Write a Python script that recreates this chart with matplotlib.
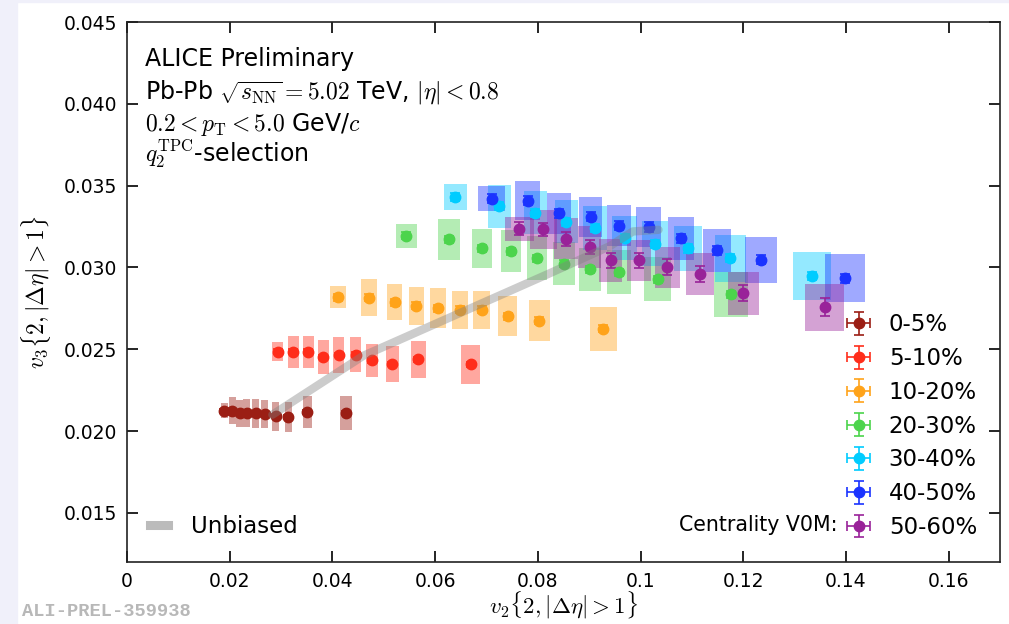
import matplotlib
matplotlib.use("Agg")
import matplotlib.pyplot as plt
from matplotlib.lines import Line2D
from matplotlib.patches import Rectangle
from matplotlib.ticker import FuncFormatter, MultipleLocator
import numpy as np

plt.rcParams['mathtext.fontset'] = 'cm'
plt.rcParams['font.family'] = ['DejaVu Sans']

# centrality classes
labels = ['0-5%', '5-10%', '10-20%', '20-30%', '30-40%', '40-50%', '50-60%']
colors = ['#9b1e14', '#ff2d1a', '#ffa31a', '#4cd44c', '#00ccff', '#1a33ff', '#992299']

# v2{2,|deta|>1} per q2 bin
v2 = [
    [0.0189, 0.0205, 0.0220, 0.0233, 0.0251, 0.0268, 0.0290, 0.0314, 0.0351, 0.0426],
    [0.0294, 0.0324, 0.0353, 0.0382, 0.0412, 0.0445, 0.0478, 0.0517, 0.0567, 0.0669],
    [0.0411, 0.0471, 0.0521, 0.0563, 0.0606, 0.0649, 0.0691, 0.0741, 0.0803, 0.0927],
    [0.0544, 0.0627, 0.0692, 0.0747, 0.0799, 0.0851, 0.0901, 0.0959, 0.1034, 0.1177],
    [0.0639, 0.0725, 0.0795, 0.0855, 0.0911, 0.0969, 0.1028, 0.1093, 0.1175, 0.1334],
    [0.0710, 0.0780, 0.0841, 0.0903, 0.0959, 0.1016, 0.1078, 0.1148, 0.1235, 0.1398],
    [0.0764, 0.0811, 0.0854, 0.0901, 0.0942, 0.0997, 0.1052, 0.1115, 0.1200, 0.1359],
]
# v3{2,|deta|>1}
v3 = [
    [0.02124, 0.02124, 0.02108, 0.0211, 0.02108, 0.02104, 0.0209, 0.02085, 0.02114, 0.0211],
    [0.02486, 0.02484, 0.02484, 0.02453, 0.02465, 0.02468, 0.02433, 0.0241, 0.02439, 0.02407],
    [0.02817, 0.02815, 0.02787, 0.02766, 0.0275, 0.02742, 0.02742, 0.02701, 0.02675, 0.02626],
    [0.03193, 0.03173, 0.03116, 0.03098, 0.03057, 0.03024, 0.02988, 0.02971, 0.02927, 0.02835],
    [0.03433, 0.03374, 0.03334, 0.03279, 0.03242, 0.03181, 0.03145, 0.03116, 0.03057, 0.02949],
    [0.03421, 0.03409, 0.03331, 0.03309, 0.03256, 0.03247, 0.03179, 0.03104, 0.03047, 0.02935],
    [0.03236, 0.03232, 0.03175, 0.03124, 0.03043, 0.03043, 0.03002, 0.0296, 0.02843, 0.02756],
]
# statistical errors on v3
stat_v3 = [
    [0.00012] * 10,
    [0.00015] * 10,
    [0.0002] * 10,
    [0.00022] * 10,
    [0.00025] * 10,
    [0.00028] * 10,
    [0.0004, 0.0004, 0.00043, 0.00043, 0.00045, 0.00045, 0.00047, 0.0005, 0.0005, 0.00055],
]
# systematic uncertainties (half widths)
sys_v2 = [
    [0.00068] * 8 + [0.00088, 0.00117],
    [0.00107] * 6 + [0.00117, 0.00127, 0.00146, 0.00185],
    [0.00156, 0.00156, 0.00146, 0.00146, 0.00156, 0.00156, 0.00166, 0.00185, 0.00205, 0.00263],
    [0.00205, 0.00205, 0.00195, 0.00195, 0.00195, 0.00205, 0.00214, 0.00234, 0.00263, 0.00331],
    [0.00224, 0.00224, 0.00224, 0.00224, 0.00234, 0.00244, 0.00253, 0.00273, 0.00302, 0.0037],
    [0.00263, 0.00244, 0.00234, 0.00224, 0.00234, 0.00244, 0.00253, 0.00273, 0.00312, 0.0039],
    [0.00283, 0.00263, 0.00234, 0.00224, 0.00224, 0.00234, 0.00244, 0.00273, 0.00302, 0.0038],
]
sys_v3 = [
    [0.00046, 0.00082, 0.00082, 0.00085, 0.00091, 0.00088, 0.00088, 0.00091, 0.00098, 0.00104],
    [0.00058, 0.00098, 0.00098, 0.00104, 0.00107, 0.00104, 0.00101, 0.00107, 0.00113, 0.00122],
    [0.00067, 0.00113, 0.0011, 0.00116, 0.00122, 0.00116, 0.00116, 0.00122, 0.00125, 0.00134],
    [0.00073, 0.00125, 0.00122, 0.00128, 0.00134, 0.00131, 0.00131, 0.00134, 0.00134, 0.0014],
    [0.00079, 0.00131, 0.00131, 0.00131, 0.00134, 0.00134, 0.00137, 0.0014, 0.00143, 0.00146],
    [0.00079, 0.00122, 0.00125, 0.00122, 0.00125, 0.00125, 0.00131, 0.00134, 0.0014, 0.00149],
    [0.00073, 0.00122, 0.00125, 0.00128, 0.00131, 0.00125, 0.00125, 0.00131, 0.00131, 0.00143],
]

# unbiased (no q2 selection) per centrality
unbiased_v2 = [0.0283, 0.0460, 0.0640, 0.0820, 0.0940, 0.0985, 0.1035]
unbiased_v3 = [0.0210, 0.0246, 0.0271, 0.0296, 0.0313, 0.0322, 0.0323]

fig = plt.figure(figsize=(10.09, 6.24), dpi=100)
fig.patch.set_facecolor('white')
fig.add_artist(Rectangle((0, 0), 17 / 1009, 1, transform=fig.transFigure,
                         color='#f0f0fa', zorder=0))
fig.add_artist(Rectangle((0, 1 - 2 / 624), 1, 2 / 624, transform=fig.transFigure,
                         color='#f0f0fa', zorder=0))

ax = fig.add_axes([127 / 1009, 1 - 562 / 624, 873 / 1009, 540 / 624])

handles = []
for i, lab in enumerate(labels):
    x = np.array(v2[i])
    y = np.array(v3[i])
    sx = np.array(sys_v2[i])
    sy = np.array(sys_v3[i])
    ax.bar(x, 2 * sy, width=2 * sx, bottom=y - sy, color=colors[i],
           alpha=0.42, linewidth=0, zorder=1 + i * 0.01)
    h = ax.errorbar(x, y, yerr=stat_v3[i], xerr=0.00008, fmt='o', color=colors[i],
                    markersize=7.5, capsize=3.5, elinewidth=1.2, capthick=1.2,
                    zorder=3, label=lab)
    handles.append(h)

ax.plot(unbiased_v2, unbiased_v3, color='gray', alpha=0.4, lw=6,
        solid_capstyle='round', solid_joinstyle='round', zorder=4)

ax.set_xlim(0, 0.17)
ax.set_ylim(0.012, 0.045)
ax.xaxis.set_major_locator(MultipleLocator(0.02))
ax.yaxis.set_major_locator(MultipleLocator(0.005))
ax.xaxis.set_major_formatter(FuncFormatter(lambda v, p: '0' if abs(v) < 1e-9 else '%g' % round(v, 3)))
ax.yaxis.set_major_formatter(FuncFormatter(lambda v, p: '%.3f' % v))
ax.tick_params(direction='in', top=True, right=True, length=8, width=1.2,
               labelsize=13.5, pad=7)
for s in ax.spines.values():
    s.set_linewidth(1.2)
    s.set_color('#222222')

ax.set_xlabel(r'$v_2\{2, |\Delta\eta|>1\}$', fontsize=16.5, labelpad=-1)
ax.set_ylabel(r'$v_3\{2, |\Delta\eta|>1\}$', fontsize=17, labelpad=8)

tx = 18 / 873
ax.text(tx, 0.9194, 'ALICE Preliminary', transform=ax.transAxes, fontsize=17, va='baseline')
ax.text(tx, 0.8583, r'Pb-Pb $\sqrt{s_{\rm NN}}=5.02$ TeV, $|\eta|<0.8$',
        transform=ax.transAxes, fontsize=17, va='baseline')
ax.text(tx, 0.799, r'$0.2<p_{\rm T}<5.0$ GeV/$c$', transform=ax.transAxes,
        fontsize=17, va='baseline')
ax.text(tx, 0.7407, r'$q_2^{\rm TPC}$-selection', transform=ax.transAxes,
        fontsize=17, va='baseline')

leg = ax.legend(handles=handles, loc='lower right', frameon=False, fontsize=16.5,
                handlelength=1.1, handletextpad=0.75, labelspacing=0.47,
                borderaxespad=0.0, borderpad=0.0, bbox_to_anchor=(1 - 23 / 873, 23 / 540))
ax.add_artist(leg)
ax.text((679 - 127) / 873, 1 - (525 - 22) / 540, 'Centrality V0M:', transform=ax.transAxes,
        fontsize=14.8, va='center', ha='left')

unb_handle = Line2D([], [], color='#bbbbbb', lw=6.5)
ax.legend([unb_handle], ['Unbiased'], loc='lower left', frameon=False,
          fontsize=16.5, handlelength=0.8, handletextpad=1.0,
          borderaxespad=0.0, borderpad=0.0, bbox_to_anchor=(23 / 873, 24 / 540))

fig.text(22 / 1009, 1 - 612 / 624, 'ALI-PREL-359938', fontsize=13.5,
         family='Liberation Mono', weight='bold', color='#b8b8b8', va='center')

fig.savefig('out.png', dpi=100)
